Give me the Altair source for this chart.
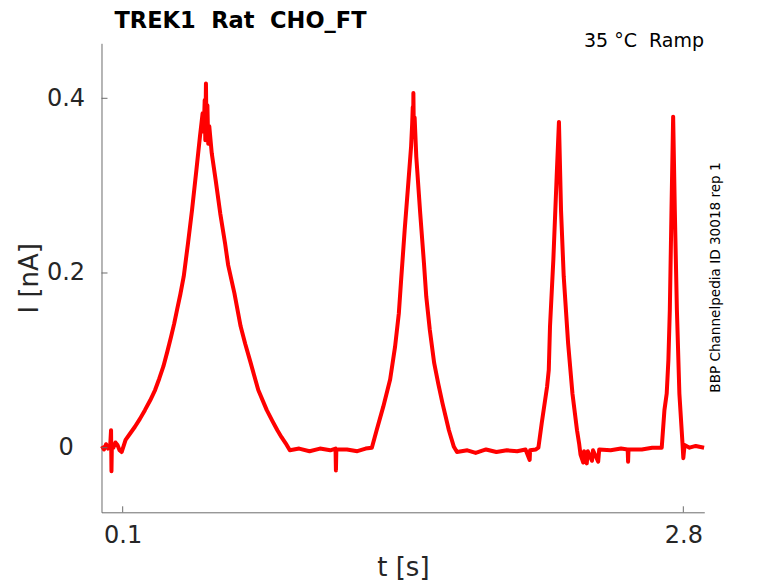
import altair as alt
import pandas as pd

# ---- data ----
T = [0.000, 0.010, 0.020, 0.030, 0.040, 0.044, 0.046, 0.048, 0.055, 0.065, 0.075, 0.085, 0.095,
     0.114, 0.135, 0.159, 0.183, 0.207, 0.232, 0.256, 0.276, 0.296, 0.315, 0.333, 0.348, 0.362,
     0.378, 0.394, 0.414, 0.434, 0.455, 0.472, 0.485,
     0.490, 0.495, 0.498, 0.501, 0.504, 0.508, 0.512, 0.517,
     0.529, 0.548, 0.570, 0.593, 0.608, 0.638, 0.668, 0.690, 0.713, 0.733, 0.753, 0.794, 0.820,
     0.845, 0.865, 0.885, 0.905,
     0.950, 1.000, 1.050, 1.100, 1.125, 1.127, 1.129, 1.180, 1.230, 1.270, 1.300,
     1.323, 1.355, 1.388, 1.412, 1.430, 1.441, 1.458, 1.473, 1.489,
     1.494, 1.497, 1.499, 1.500, 1.502, 1.506,
     1.514, 1.533, 1.551, 1.562, 1.579, 1.600, 1.620, 1.640, 1.671, 1.695,
     1.710, 1.760, 1.800, 1.850, 1.900, 1.950, 2.000, 2.040, 2.060, 2.062, 2.090, 2.102,
     2.118, 2.144, 2.152, 2.158, 2.174, 2.190, 2.201,
     2.211, 2.224, 2.245, 2.266, 2.288, 2.298,
     2.305, 2.318, 2.322, 2.335, 2.340, 2.360, 2.365, 2.390, 2.395, 2.450, 2.500, 2.532, 2.534,
     2.536, 2.600, 2.650, 2.696,
     2.709, 2.720, 2.728, 2.735, 2.743, 2.751,
     2.759, 2.769, 2.781, 2.796, 2.800, 2.806, 2.830, 2.860, 2.900]

I = [0.002, -0.002, 0.004, -0.001, 0.003, 0.020, -0.027, 0.004, 0.000, 0.006, 0.003, -0.003, -0.005,
     0.009, 0.016, 0.024, 0.033, 0.043, 0.054, 0.066, 0.079, 0.093, 0.110, 0.127, 0.142, 0.158,
     0.176, 0.196, 0.233, 0.272, 0.318, 0.356, 0.383,
     0.362, 0.398, 0.352, 0.417, 0.356, 0.392, 0.348, 0.368,
     0.337, 0.306, 0.268, 0.234, 0.209, 0.177, 0.139, 0.119, 0.100, 0.083, 0.066, 0.043, 0.031,
     0.020, 0.012, 0.005, -0.003,
     -0.001, -0.004, -0.001, -0.003, -0.001, -0.026, -0.002, -0.002, -0.004, -0.001, 0.000,
     0.020, 0.047, 0.078, 0.116, 0.154, 0.192, 0.249, 0.295, 0.345,
     0.370, 0.390, 0.362, 0.406, 0.366, 0.378,
     0.333, 0.268, 0.211, 0.173, 0.135, 0.097, 0.073, 0.051, 0.020, 0.001,
     -0.005, -0.003, -0.006, -0.002, -0.005, -0.003, -0.004, -0.002, -0.014, -0.003, -0.002, 0.000,
     0.028, 0.070, 0.089, 0.139, 0.215, 0.310, 0.373,
     0.272, 0.196, 0.120, 0.062, 0.020, 0.005,
     -0.008, -0.017, -0.004, -0.018, -0.004, -0.015, -0.003, -0.016, -0.002, -0.003, -0.001, -0.002, -0.016,
     -0.002, -0.002, 0.000, 0.000,
     0.043, 0.062, 0.100, 0.158, 0.272, 0.379,
     0.272, 0.158, 0.062, 0.005, -0.012, 0.003, 0.000, 0.002, 0.000]

X_TICKS = [0.1, 2.8]
Y_TICKS = [0, 0.2, 0.4]
X_DOMAIN = [-0.002, 2.901]
Y_DOMAIN = [-0.07396, 0.46297]

TITLE = "TREK1 \u00a0Rat \u00a0CHO_FT"
CONDITION = "35 °C \u00a0Ramp"
SOURCE = "BBP Channelpedia ID 30018 rep 1"
X_TITLE = "t [s]"
Y_TITLE = "I [nA]"

FONT = "DejaVu Sans"
W, H = 602.8, 469
AXIS_GREY = "#6b6b6b"
LABEL = "#262626"

xs = alt.Scale(domain=X_DOMAIN, nice=False, zero=False)
ys = alt.Scale(domain=Y_DOMAIN, nice=False, zero=False)

x_axis = alt.Axis(
    values=X_TICKS, format=".1f", title=X_TITLE, tickSize=0, labelPadding=11,
    labelFontSize=24, labelFont=FONT, labelColor=LABEL, labelFlush=False, labelOverlap=False,
    labelBaseline="top", titleFontSize=26, titleFont=FONT, titleFontWeight="normal",
    titleColor=LABEL, titleX=W / 2, titleY=63.2, titleBaseline="alphabetic",
    titleAlign="center", domainColor=AXIS_GREY, grid=False)
y_axis = alt.Axis(
    values=Y_TICKS, format="~g", title=Y_TITLE, tickSize=0, labelPadding=36,
    labelAlign="center", labelBaseline="middle",
    labelFontSize=24, labelFont=FONT, labelColor=LABEL, labelFlush=False, labelOverlap=False,
    titleFontSize=26, titleFont=FONT, titleFontWeight="normal", titleColor=LABEL,
    titleX=-64.5, titleY=H / 2, titleAngle=270, titleBaseline="alphabetic",
    titleAlign="center", domainColor=AXIS_GREY, grid=False)

df = pd.DataFrame({"t": T, "I": I})

line = alt.Chart(df).mark_line(color="#ff0000", strokeWidth=4, strokeJoin="round").encode(
    x=alt.X("t:Q", scale=xs, axis=x_axis),
    y=alt.Y("I:Q", scale=ys, axis=y_axis),
)

# inward tick marks, placed through the shared scales
y_ticks = alt.Chart(pd.DataFrame({"I": Y_TICKS})).mark_rule(color=AXIS_GREY, strokeWidth=1).encode(
    y=alt.Y("I:Q", scale=ys, axis=y_axis), x=alt.value(0), x2=alt.value(6))
x_ticks = alt.Chart(pd.DataFrame({"t": X_TICKS})).mark_rule(color=AXIS_GREY, strokeWidth=1).encode(
    x=alt.X("t:Q", scale=xs, axis=x_axis), y=alt.value(H - 6), y2=alt.value(H))

title = alt.Chart(pd.DataFrame({"s": [TITLE]})).mark_text(
    align="left", baseline="alphabetic", fontSize=22.5, fontWeight="bold", font=FONT, color="black"
).encode(text="s:N", x=alt.value(13), y=alt.value(-15.3))

cond = alt.Chart(pd.DataFrame({"s": [CONDITION]})).mark_text(
    align="right", baseline="alphabetic", fontSize=19, font=FONT, color="black"
).encode(text="s:N", x=alt.value(602.5), y=alt.value(3.4))

src = alt.Chart(pd.DataFrame({"s": [SOURCE]})).mark_text(
    align="center", baseline="middle", angle=270, fontSize=13.6, font=FONT, color="black"
).encode(text="s:N", x=alt.value(615), y=alt.value(234.2))

chart = alt.layer(line, y_ticks, x_ticks, title, cond, src).properties(
    width=W, height=H,
    autosize=alt.AutoSizeParams(type="none"),
    padding={"left": 93.5, "top": 35.3, "right": 60, "bottom": 70},
).configure_view(stroke=None)

chart.save("out.html", embed_options={"renderer": "svg", "actions": False})
